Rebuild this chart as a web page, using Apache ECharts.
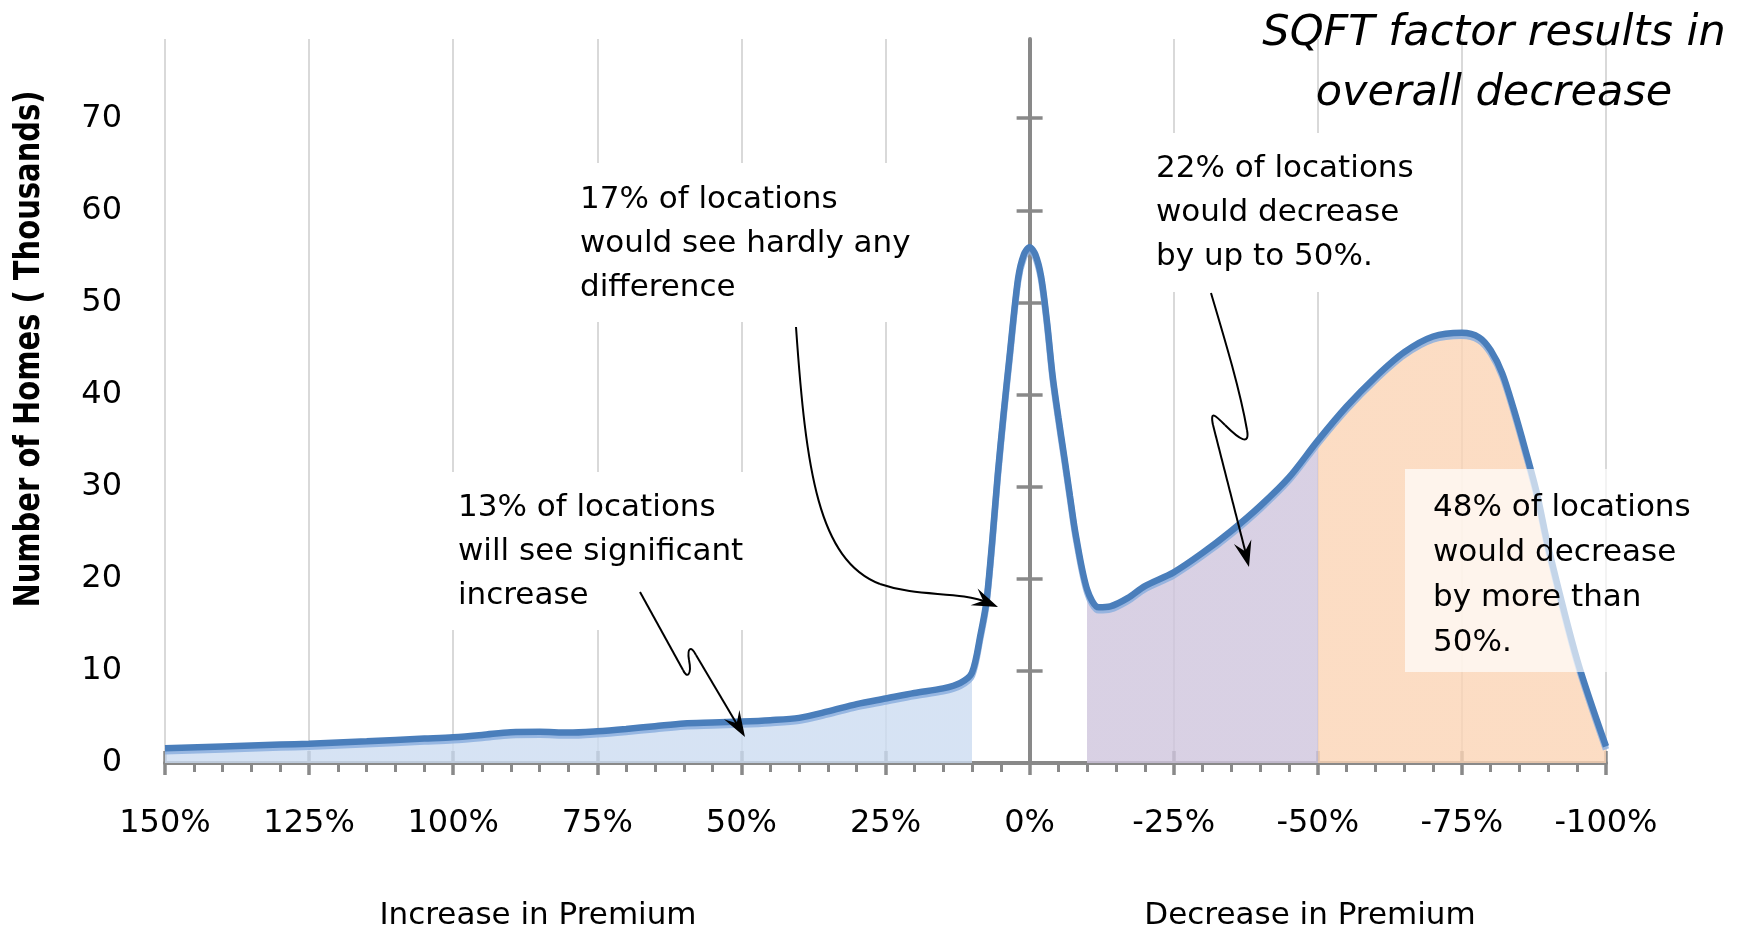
<!DOCTYPE html>
<html>
<head>
<meta charset="utf-8">
<script src="https://cdn.jsdelivr.net/npm/echarts@6/dist/echarts.min.js"></script>
<style>html,body{margin:0;padding:0;background:#fff}#c{width:1740px;height:928px}</style>
</head>
<body>
<div id="c"></div>
<script>
// Change in premium (%) and number of homes (thousands)
const premiumChange = [150,140,130,125,115,105,100,95,90,85,80,75,70,65,60,55,50,45,40,35,30,25,20,15,12,10,8.5,7.5,6.5,5.5,4.5,3.5,2,1,0,-1,-2,-3,-4,-5,-6,-7,-8,-10,-12,-14,-17,-20,-25,-30,-35,-40,-45,-50,-55,-60,-65,-70,-75,-78,-80,-82,-84,-86,-88,-90,-95,-100];
const homesThousands = [1.6,1.8,2.0,2.1,2.35,2.65,2.8,3.05,3.35,3.4,3.3,3.45,3.7,4.0,4.3,4.4,4.5,4.65,4.9,5.6,6.4,7.0,7.6,8.1,8.7,9.8,14.0,17.5,24.0,31.5,38.0,44.0,52.6,55.2,56.0,55.2,52.8,48.0,42.0,37.5,33.3,29.0,24.8,18.8,16.9,17.0,17.9,19.2,20.7,22.8,25.2,27.9,31.0,35.0,38.7,41.9,44.6,46.3,46.7,46.2,44.8,42.3,38.4,34.0,29.3,23.4,11.2,1.8];
const yTickValues = [0,10,20,30,40,50,60,70];
const yCrossTickValues = [10,20,30,40,50,60,70];
const xTickValues = [150,125,100,75,50,25,0,-25,-50,-75,-100];
const bandEdges = [150, 10, -10, -50, -100];
const titleLines = ['SQFT factor results in', 'overall decrease'];
const noteIncrease = ['13% of locations', 'will see significant', 'increase'];
const noteFlat = ['17% of locations', 'would see hardly any', 'difference'];
const noteDecrease = ['22% of locations', 'would decrease', 'by up to 50%.'];
const noteBigDecrease = ['48% of locations', 'would decrease', 'by more than', '50%.'];

const FONT = "'DejaVu Sans', sans-serif";
const GRAY = '#898989';
const chart = echarts.init(document.getElementById('c'));
const seriesData = premiumChange.map((x, i) => [x, homesThousands[i]]);

function stealth(tip, from, L, W) {
  L = L || 26; W = W || 9;
  const dx = tip[0] - from[0], dy = tip[1] - from[1];
  const len = Math.hypot(dx, dy), ux = dx / len, uy = dy / len, nx = -uy, ny = ux;
  const bx = tip[0] - ux * L, by = tip[1] - uy * L;
  const mx = tip[0] - ux * L * 0.62, my = tip[1] - uy * L * 0.62;
  return { type: 'polygon', z: 101, shape: { points: [tip, [bx + nx * W, by + ny * W], [mx, my], [bx - nx * W, by - ny * W]] }, style: { fill: '#000' } };
}
const ST = { stroke: '#000', lineWidth: 2, fill: null };
function bz(p1, c1, c2, p2) {
  return { type: 'bezierCurve', z: 101, shape: { x1: p1[0], y1: p1[1], cpx1: c1[0], cpy1: c1[1], cpx2: c2[0], cpy2: c2[1], x2: p2[0], y2: p2[1] }, style: ST };
}
function seg(p1, p2) {
  return { type: 'line', z: 101, shape: { x1: p1[0], y1: p1[1], x2: p2[0], y2: p2[1] }, style: ST };
}
function note(lines, x, y, lh) {
  return { type: 'text', z: 102, x: x, y: y, style: { text: lines.join('\n'), font: '31px ' + FONT, fill: '#000', lineHeight: lh || 44, align: 'left', verticalAlign: 'top' } };
}
function box(x, y, w, h, fill) {
  return { type: 'rect', z: 100, shape: { x: x, y: y, width: w, height: h }, style: { fill: fill } };
}

const option = {
  animation: false,
  backgroundColor: '#fff',
  textStyle: { fontFamily: FONT },
  grid: { left: 165, right: 134, top: 39, bottom: 165 },
  xAxis: [{
    type: 'value', inverse: true, min: -100, max: 150, interval: 25,
    axisLine: { show: true, onZero: false, lineStyle: { color: GRAY, width: 4 } },
    axisTick: { show: true, length: 12, lineStyle: { color: GRAY, width: 3.5 } },
    minorTick: { show: true, splitNumber: 5, length: 9, lineStyle: { color: GRAY, width: 3 } },
    axisLabel: { fontSize: 32, color: '#000', margin: 45, fontFamily: FONT, formatter: v => v + '%' },
    splitLine: { show: true, lineStyle: { color: '#d9d9d9', width: 2 } }
  }, {
    type: 'value', inverse: true, min: -100, max: 150, interval: 25, position: 'bottom',
    axisLine: { show: false, onZero: false },
    axisTick: { show: true, inside: true, length: 12, lineStyle: { color: GRAY, width: 3.5 } },
    axisLabel: { show: false }, splitLine: { show: false }
  }],
  yAxis: [{
    type: 'value', min: 0, max: 78.6, interval: 10, position: 'left',
    axisLine: { show: false, onZero: false }, axisTick: { show: false },
    axisLabel: { fontSize: 32, color: '#000', margin: 43, fontFamily: FONT, customValues: yTickValues },
    splitLine: { show: false }
  }, {
    type: 'value', min: 0, max: 78.6, interval: 10, position: 'left',
    axisLine: { show: true, onZero: true, onZeroAxisIndex: 0, lineStyle: { color: GRAY, width: 4 } },
    axisTick: { show: true, length: 13, customValues: yCrossTickValues, lineStyle: { color: GRAY, width: 3.5 } },
    axisLabel: { show: false }, splitLine: { show: false }
  }, {
    type: 'value', min: 0, max: 78.6, interval: 10, position: 'left',
    axisLine: { show: false, onZero: true, onZeroAxisIndex: 0 },
    axisTick: { show: true, inside: true, length: 13, customValues: yCrossTickValues, lineStyle: { color: GRAY, width: 3.5 } },
    axisLabel: { show: false }, splitLine: { show: false }
  }],
  visualMap: {
    type: 'piecewise', show: false, dimension: 0, seriesIndex: 0,
    pieces: [
      { gt: bandEdges[1], lte: bandEdges[0], color: 'rgba(204,220,241,0.8)' },
      { gt: bandEdges[2], lte: bandEdges[1], color: 'rgba(255,255,255,0)' },
      { gt: bandEdges[3], lte: bandEdges[2], color: 'rgba(207,197,221,0.8)' },
      { gte: bandEdges[4], lte: bandEdges[3], color: 'rgba(251,212,181,0.8)' }
    ]
  },
  series: [{
    type: 'line', data: seriesData, smooth: 0.3, showSymbol: false, silent: true,
    lineStyle: { width: 0, opacity: 0 },
    areaStyle: { opacity: 1 }, z: 2
  }, {
    type: 'line', data: seriesData, smooth: 0.3, showSymbol: false, silent: true,
    lineStyle: { color: '#4a7ebb', width: 6.5, shadowColor: 'rgba(140,175,222,0.85)', shadowOffsetY: 3, shadowBlur: 0 },
    z: 3
  }],
  graphic: [
    { type: 'text', z: 102, x: 30, y: 349, rotation: Math.PI / 2, scaleY: 1.25,
      style: { text: 'Number of Homes ( Thousands)', font: 'bold 29px ' + FONT, fill: '#000', align: 'center', verticalAlign: 'middle' } },
    { type: 'text', z: 102, x: 1494, y: 4,
      style: { text: titleLines.join('\n'), font: 'italic 43px ' + FONT, fill: '#000', lineHeight: 60, align: 'center', verticalAlign: 'top' } },
    { type: 'text', z: 102, x: 538, y: 916,
      style: { text: 'Increase in Premium', font: '31px ' + FONT, fill: '#000', align: 'center', verticalAlign: 'middle' } },
    { type: 'text', z: 102, x: 1310, y: 916,
      style: { text: 'Decrease in Premium', font: '31px ' + FONT, fill: '#000', align: 'center', verticalAlign: 'middle' } },
    box(575, 163, 355, 159, '#fff'),
    box(447, 472, 313, 158, '#fff'),
    box(1145, 133, 190, 159, '#fff'),
    box(1405, 469, 207, 203, 'rgba(255,255,255,0.68)'),
    note(noteFlat, 580, 178),
    note(noteIncrease, 458, 486),
    note(noteDecrease, 1156, 147),
    note(noteBigDecrease, 1433, 485, 45),
    bz([796, 327], [806, 470], [818, 560], [880, 584]),
    bz([880, 584], [920, 598], [955, 590], [990, 603]),
    stealth([998, 607], [972, 596]),
    seg([640, 592], [683, 670]),
    bz([683, 670], [687, 679], [692, 675], [689, 660]),
    bz([689, 660], [687, 648], [691, 645], [696, 655]),
    seg([696, 655], [738, 726]),
    stealth([745, 737], [696, 655]),
    bz([1211, 293], [1225, 340], [1240, 390], [1247, 430]),
    bz([1247, 430], [1250, 446], [1240, 440], [1225, 425]),
    bz([1225, 425], [1215, 415], [1210, 410], [1213, 425]),
    seg([1213, 425], [1247, 558]),
    stealth([1249, 567], [1213, 425])
  ]
};
chart.setOption(option);
</script>
</body>
</html>
